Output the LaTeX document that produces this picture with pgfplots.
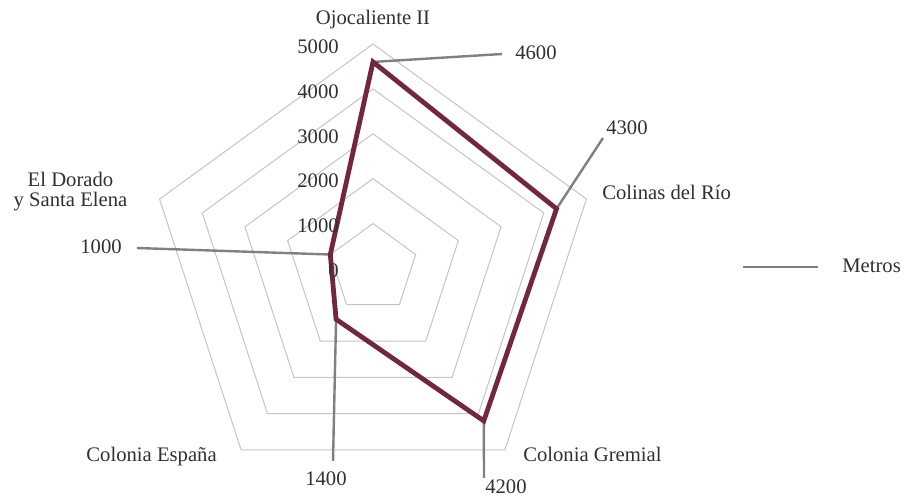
\documentclass[border=0pt]{standalone}
\usepackage{pgfplots}
\pgfplotsset{compat=1.18}
\usepgfplotslibrary{polar}
\usepackage{fontspec}
\setmainfont{Liberation Serif}
\definecolor{serie}{RGB}{114,40,58}
\definecolor{guia}{RGB}{128,128,128}
\definecolor{rejilla}{RGB}{196,196,196}
\definecolor{texto}{RGB}{48,48,48}
\begin{document}
\begin{tikzpicture}[font=\fontsize{15.5}{18}\selectfont, text=texto,
    leader/.style={guia, line width=1.8pt},
    ring/.style={rejilla, line width=0.75pt, mark=none},
    tick/.style={anchor=base east, inner sep=0pt, xshift=-25.5pt, yshift=-7pt}]
\begin{polaraxis}[
    hide axis,
    scale only axis,
    width=336.6pt, height=336.6pt,
    ymin=0, ymax=5000,
    clip=false,
]
% pentagon grid
\addplot[ring] coordinates {(90,1000) (18,1000) (-54,1000) (-126,1000) (162,1000) (90,1000)};
\addplot[ring] coordinates {(90,2000) (18,2000) (-54,2000) (-126,2000) (162,2000) (90,2000)};
\addplot[ring] coordinates {(90,3000) (18,3000) (-54,3000) (-126,3000) (162,3000) (90,3000)};
\addplot[ring] coordinates {(90,4000) (18,4000) (-54,4000) (-126,4000) (162,4000) (90,4000)};
\addplot[ring] coordinates {(90,5000) (18,5000) (-54,5000) (-126,5000) (162,5000) (90,5000)};
% leader lines
\draw[leader] (axis cs:90,4600) -- (axis cs:58.97,5575);
\draw[leader] (axis cs:18,4300) -- (axis cs:29.55,5891);
\draw[leader] (axis cs:-54,4200) -- (axis cs:-62.09,5285);
\draw[leader] (axis cs:-126,1400) -- (axis cs:-101.73,4383);
\draw[leader] (axis cs:162,1000) -- (axis cs:175.06,5278);
% series: Metros
\addplot[serie, line width=3.6pt, line join=miter, mark=none]
    coordinates {(90,4600) (18,4300) (-54,4200) (-126,1400) (162,1000) (90,4600) (18,4300)};
% radial tick labels
\node[tick] at (axis cs:90,0) {0};
\node[tick] at (axis cs:90,1000) {1000};
\node[tick] at (axis cs:90,2000) {2000};
\node[tick] at (axis cs:90,3000) {3000};
\node[tick] at (axis cs:90,4000) {4000};
\node[tick] at (axis cs:90,5000) {5000};
\coordinate (c) at (axis cs:0,0);
\end{polaraxis}
\begin{scope}[shift={(c)}, x=0.75pt, y=-0.75pt, every node/.style={inner sep=0pt}]
\path (-373,-268.4) rectangle (539,230.6);
% category labels
\node[anchor=base] at (0,-243.4) {Ojocaliente II};
\node[anchor=base west] at (229,-68.4) {Colinas del Río};
\node[anchor=base west] at (150,193.6) {Colonia Gremial};
\node[anchor=base east] at (-156,192.6) {Colonia España};
\node[anchor=base] at (-302.5,-81.4) {El Dorado};
\node[anchor=base] at (-302.5,-61.4) {y Santa Elena};
% data labels
\node[anchor=base west] at (142,-208.4) {4600};
\node[anchor=base west] at (233,-133.4) {4300};
\node[anchor=base west] at (112,224.6) {4200};
\node[anchor=base west] at (-68,216.6) {1400};
\node[anchor=base east] at (-251,-14.4) {1000};
% legend
\draw[guia, line width=1.8pt] (370,-1.4) -- (445,-1.4);
\node[anchor=base west] at (469,4.6) {Metros};
\end{scope}
\end{tikzpicture}
\end{document}
